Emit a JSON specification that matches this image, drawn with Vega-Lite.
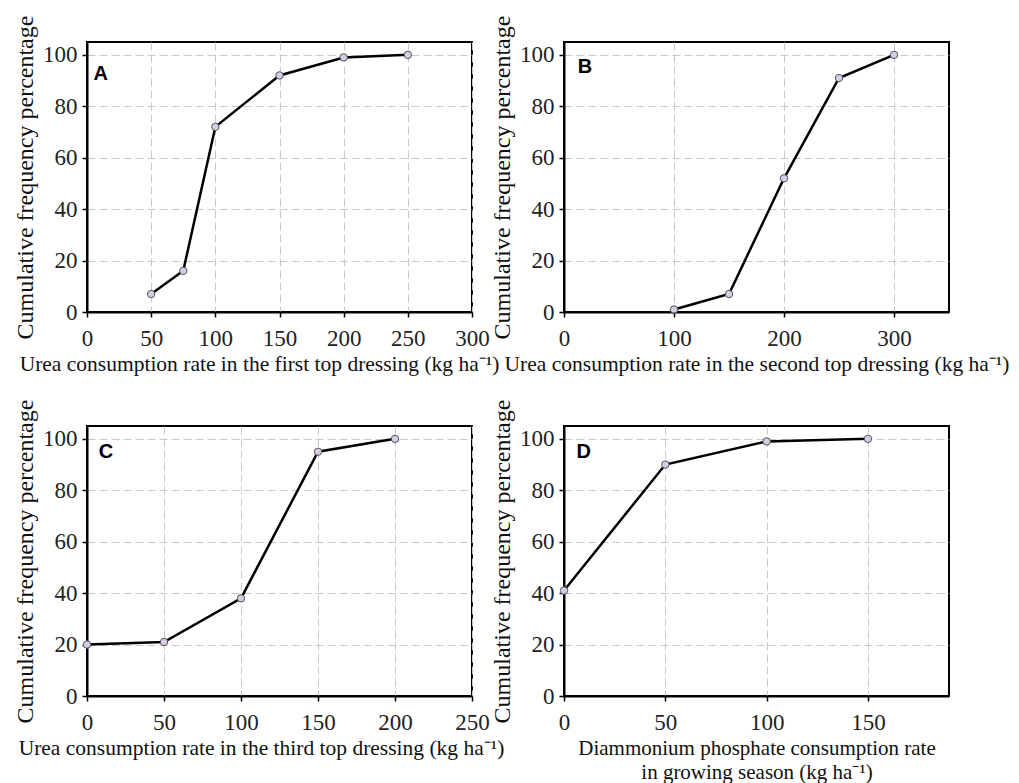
{
  "$schema": "https://vega.github.io/schema/vega-lite/v6.json",
  "background": "white",
  "padding": {"left": 12, "top": 14, "right": 5, "bottom": 2},
  "config": {
    "view": {"stroke": "black", "strokeWidth": 2},
    "font": "Liberation Serif",
    "axis": {
      "labelFont": "Liberation Serif",
      "labelFontSize": 23,
      "labelColor": "#222222",
      "titleFont": "Liberation Serif",
      "titleFontWeight": "normal",
      "titleColor": "#111111",
      "domainColor": "black",
      "domainWidth": 2,
      "tickColor": "black",
      "tickSize": 5,
      "tickWidth": 1.5,
      "grid": true,
      "gridColor": "#c8c8c8",
      "gridDash": [8, 4],
      "gridWidth": 1
    },
    "axisX": {"labelPadding": 10, "titleFontSize": 21.5, "titlePadding": 3, "labelFlush": false},
    "axisY": {"labelPadding": 5, "titleFontSize": 24, "titlePadding": 5}
  },
  "datasets": {
    "A": [{"x": 50, "y": 7}, {"x": 75, "y": 16}, {"x": 100, "y": 72}, {"x": 150, "y": 92}, {"x": 200, "y": 99}, {"x": 250, "y": 100}],
    "B": [{"x": 100, "y": 1}, {"x": 150, "y": 7}, {"x": 200, "y": 52}, {"x": 250, "y": 91}, {"x": 300, "y": 100}],
    "C": [{"x": 0, "y": 20}, {"x": 50, "y": 21}, {"x": 100, "y": 38}, {"x": 150, "y": 95}, {"x": 200, "y": 100}],
    "D": [{"x": 0, "y": 41}, {"x": 50, "y": 90}, {"x": 100, "y": 99}, {"x": 150, "y": 100}]
  },
  "columns": 2,
  "bounds": "flush",
  "spacing": {"row": 114, "column": 92},
  "concat": [
    {
      "width": 385, "height": 270,
      "data": {"name": "A"},
      "layer": [
        {"mark": {"type": "line", "color": "black", "strokeWidth": 2.5},
         "encoding": {
           "x": {"field": "x", "type": "quantitative", "scale": {"domain": [0, 300], "nice": false},
                 "axis": {"values": [0, 50, 100, 150, 200, 250, 300], "title": "Urea consumption rate in the first top dressing (kg ha⁻¹)", "titleX": 172}},
           "y": {"field": "y", "type": "quantitative", "scale": {"domain": [0, 105], "nice": false},
                 "axis": {"values": [0, 20, 40, 60, 80, 100], "title": "Cumulative frequency percentage"}}
         }},
        {"mark": {"type": "point", "filled": true, "fill": "#d6cbe8", "stroke": "#555555", "strokeWidth": 1, "size": 55, "opacity": 1},
         "encoding": {"x": {"field": "x", "type": "quantitative"}, "y": {"field": "y", "type": "quantitative"}}},
        {"data": {"values": [{"panel": "A"}]},
         "mark": {"type": "text", "font": "Liberation Sans", "fontWeight": "bold", "fontSize": 20, "align": "left", "baseline": "middle", "color": "black"},
         "encoding": {"x": {"datum": 5}, "y": {"datum": 92.5}, "text": {"field": "panel"}}}
      ]
    },
    {
      "width": 385, "height": 270,
      "data": {"name": "B"},
      "layer": [
        {"mark": {"type": "line", "color": "black", "strokeWidth": 2.5},
         "encoding": {
           "x": {"field": "x", "type": "quantitative", "scale": {"domain": [0, 350], "nice": false},
                 "axis": {"values": [0, 100, 200, 300], "title": "Urea consumption rate in the second top dressing (kg ha⁻¹)"}},
           "y": {"field": "y", "type": "quantitative", "scale": {"domain": [0, 105], "nice": false},
                 "axis": {"values": [0, 20, 40, 60, 80, 100], "title": "Cumulative frequency percentage"}}
         }},
        {"mark": {"type": "point", "filled": true, "fill": "#d6cbe8", "stroke": "#555555", "strokeWidth": 1, "size": 55, "opacity": 1},
         "encoding": {"x": {"field": "x", "type": "quantitative"}, "y": {"field": "y", "type": "quantitative"}}},
        {"data": {"values": [{"panel": "B"}]},
         "mark": {"type": "text", "font": "Liberation Sans", "fontWeight": "bold", "fontSize": 20, "align": "left", "baseline": "middle", "color": "black"},
         "encoding": {"x": {"datum": 12.5}, "y": {"datum": 95.3}, "text": {"field": "panel"}}}
      ]
    },
    {
      "width": 385, "height": 270,
      "data": {"name": "C"},
      "layer": [
        {"mark": {"type": "line", "color": "black", "strokeWidth": 2.5},
         "encoding": {
           "x": {"field": "x", "type": "quantitative", "scale": {"domain": [0, 250], "nice": false},
                 "axis": {"values": [0, 50, 100, 150, 200, 250], "title": "Urea consumption rate in the third top dressing (kg ha⁻¹)", "titleX": 174}},
           "y": {"field": "y", "type": "quantitative", "scale": {"domain": [0, 105], "nice": false},
                 "axis": {"values": [0, 20, 40, 60, 80, 100], "title": "Cumulative frequency percentage"}}
         }},
        {"mark": {"type": "point", "filled": true, "fill": "#d6cbe8", "stroke": "#555555", "strokeWidth": 1, "size": 55, "opacity": 1},
         "encoding": {"x": {"field": "x", "type": "quantitative"}, "y": {"field": "y", "type": "quantitative"}}},
        {"data": {"values": [{"panel": "C"}]},
         "mark": {"type": "text", "font": "Liberation Sans", "fontWeight": "bold", "fontSize": 20, "align": "left", "baseline": "middle", "color": "black"},
         "encoding": {"x": {"datum": 7.6}, "y": {"datum": 94.8}, "text": {"field": "panel"}}}
      ]
    },
    {
      "width": 385, "height": 270,
      "data": {"name": "D"},
      "layer": [
        {"mark": {"type": "line", "color": "black", "strokeWidth": 2.5},
         "encoding": {
           "x": {"field": "x", "type": "quantitative", "scale": {"domain": [0, 190], "nice": false},
                 "axis": {"values": [0, 50, 100, 150], "title": ["Diammonium phosphate consumption rate", "in growing season (kg ha⁻¹)"], "titleLineHeight": 24, "titleFontSize": 21}},
           "y": {"field": "y", "type": "quantitative", "scale": {"domain": [0, 105], "nice": false},
                 "axis": {"values": [0, 20, 40, 60, 80, 100], "title": "Cumulative frequency percentage"}}
         }},
        {"mark": {"type": "point", "filled": true, "fill": "#d6cbe8", "stroke": "#555555", "strokeWidth": 1, "size": 55, "opacity": 1},
         "encoding": {"x": {"field": "x", "type": "quantitative"}, "y": {"field": "y", "type": "quantitative"}}},
        {"data": {"values": [{"panel": "D"}]},
         "mark": {"type": "text", "font": "Liberation Sans", "fontWeight": "bold", "fontSize": 20, "align": "left", "baseline": "middle", "color": "black"},
         "encoding": {"x": {"datum": 6.2}, "y": {"datum": 95}, "text": {"field": "panel"}}}
      ]
    }
  ]
}
